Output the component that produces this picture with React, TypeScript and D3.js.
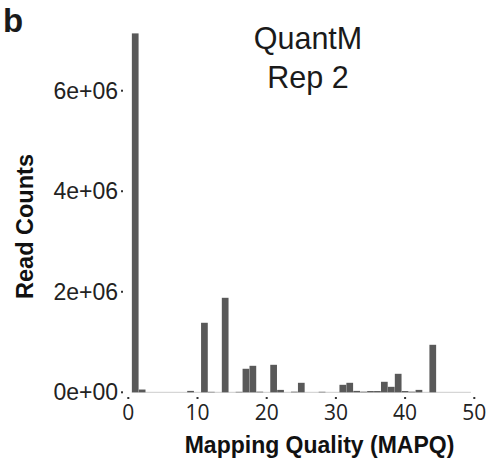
import React from "react";
import * as d3 from "d3";

const mapq: number[] = [1, 2, 9, 11, 12, 14, 16, 17, 18, 19, 21, 22, 24, 25, 28, 31, 32, 33, 34, 35, 36, 37, 38, 39, 40, 41, 42, 44];
const readCounts: number[] = [7140000, 55000, 28000, 1383000, 9000, 1880000, 9000, 468000, 527000, 12000, 547000, 48000, 12000, 189000, 10000, 149000, 189000, 28000, 12000, 25000, 25000, 209000, 109000, 368000, 25000, 12000, 48000, 945000];
const xTicks: number[] = [0, 10, 20, 30, 40, 50];
const yTicks: number[] = [0, 2e6, 4e6, 6e6];
const yTickLabels: string[] = ["0e+00", "2e+06", "4e+06", "6e+06"];
const titleLines: string[] = ["QuantM", "Rep 2"];

export default function App() {
  const x = d3.scaleLinear().domain([0, 50]).range([128.3, 474.3]);
  const y = d3.scaleLinear().domain([0, 6e6]).range([392.3, 90.7]);
  const bw = x(1) - x(0);
  const barW = bw * 0.97;
  const sans = "'Liberation Sans', Arial, Helvetica, sans-serif";
  const tickFont = "'Open Sans', 'Liberation Sans', sans-serif";
  return (
    <svg
      width={490}
      height={466}
      style={{ position: "absolute", left: 0, top: 0, background: "#fff" }}
    >
      <rect x={0} y={0} width={490} height={466} fill="#fff" />
      <text x={3} y={32} fontFamily={sans} fontWeight="bold" fontSize={33} fill="#1a1a1a">b</text>
      {titleLines.map((t, i) => (
        <text key={t} x={308} y={49 + i * 39} textAnchor="middle" fontFamily={sans} fontSize={30.5} fill="#1a1a1a">
          {t}
        </text>
      ))}
      <line x1={x(0.5)} x2={x(49.5)} y1={y(0)} y2={y(0)} stroke="#d6d6d6" strokeWidth={1.2} />
      {mapq.map((m, i) => (
        <rect
          key={m}
          x={x(m) - barW / 2}
          y={y(readCounts[i])}
          width={barW}
          height={Math.max(0, y(0) - y(readCounts[i]))}
          fill="#595959"
        />
      ))}
      {yTicks.map((v, i) => (
        <g key={v}>
          <rect x={121} y={y(v) - 1} width={2} height={2} fill="#333" />
          <text x={118} y={y(v)} dy="0.35em" textAnchor="end" fontFamily={sans} fontSize={23} fill="#222">
            {yTickLabels[i]}
          </text>
        </g>
      ))}
      {xTicks.map((v) => (
        <g key={v}>
          <rect x={x(v) - 1} y={397} width={2} height={2} fill="#333" />
          <text x={x(v)} y={420} textAnchor="middle" fontFamily={tickFont} fontSize={21} fill="#222">
            {v}
          </text>
        </g>
      ))}
      <text x={319.5} y={452.5} textAnchor="middle" fontFamily={sans} fontWeight="bold" fontSize={23} fill="#111">
        Mapping Quality (MAPQ)
      </text>
      <text
        transform={`translate(33, 226.5) rotate(-90)`}
        textAnchor="middle"
        fontFamily={sans}
        fontWeight="bold"
        fontSize={23.5}
        fill="#111"
      >
        Read Counts
      </text>
    </svg>
  );
}
